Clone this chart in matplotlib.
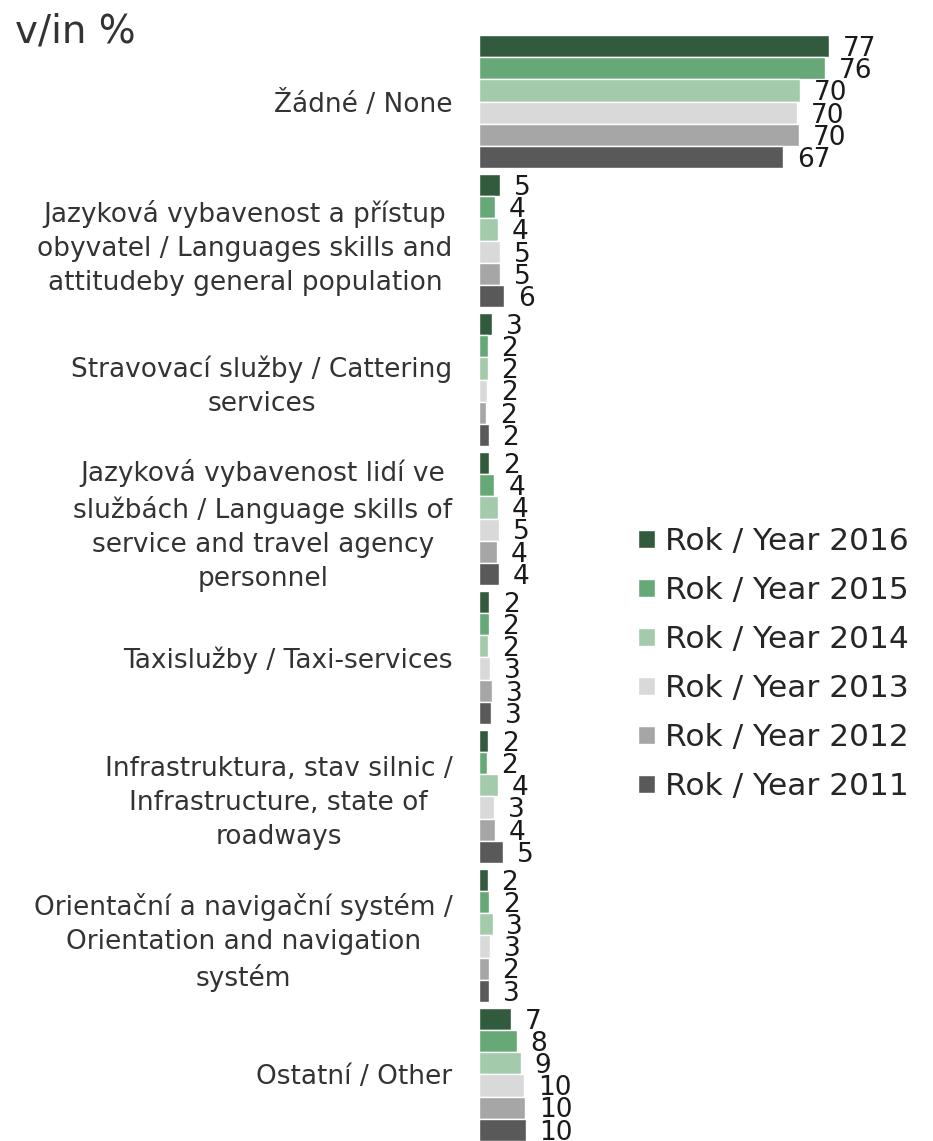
import matplotlib.pyplot as plt
from matplotlib.patches import Patch

categories = [
    "Žádné / None",
    "Jazyková vybavenost a přístup\nobyvatel / Languages skills and\nattitudeby general population",
    "Stravovací služby / Cattering\nservices",
    "Jazyková vybavenost lidí ve\nslužbách / Language skills of\nservice and travel agency\npersonnel",
    "Taxislužby / Taxi-services",
    "Infrastruktura, stav silnic /\nInfrastructure, state of\nroadways",
    "Orientační a navigační systém /\nOrientation and navigation\nsystém",
    "Ostatní / Other",
]
years = ["Rok / Year 2016", "Rok / Year 2015", "Rok / Year 2014",
         "Rok / Year 2013", "Rok / Year 2012", "Rok / Year 2011"]
colors = ["#325a3c", "#67a877", "#a3cbab", "#d9d9d9", "#a6a6a6", "#595959"]

# bar lengths (unrounded) and printed labels
v2016 = [77.2, 4.6, 2.9, 2.3, 2.2, 2.0, 1.9, 7.1]
v2015 = [76.3, 3.5, 1.9, 3.4, 2.1, 1.8, 2.2, 8.3]
v2014 = [70.8, 4.1, 1.9, 4.1, 2.0, 4.2, 3.0, 9.2]
v2013 = [70.1, 4.7, 1.8, 4.5, 2.5, 3.3, 2.5, 10.0]
v2012 = [70.5, 4.7, 1.5, 4.0, 2.9, 3.5, 2.1, 10.1]
v2011 = [67.0, 5.5, 2.1, 4.3, 2.6, 5.2, 2.3, 10.3]
l2016 = [77, 5, 3, 2, 2, 2, 2, 7]
l2015 = [76, 4, 2, 4, 2, 2, 2, 8]
l2014 = [70, 4, 2, 4, 2, 4, 3, 9]
l2013 = [70, 5, 2, 5, 3, 3, 3, 10]
l2012 = [70, 5, 2, 4, 3, 4, 2, 10]
l2011 = [67, 6, 2, 4, 3, 5, 3, 10]

values = [v2016, v2015, v2014, v2013, v2012, v2011]
labels = [l2016, l2015, l2014, l2013, l2012, l2011]

W, H = 933, 1141
fig = plt.figure(figsize=(W / 100, H / 100), dpi=100)
ax = fig.add_axes([479 / W, 0, 390 / W, (H - 35) / H])

step = 0.16
for j, (vals, labs) in enumerate(zip(values, labels)):
    ys = [i + (j - 2.5) * step for i in range(len(categories))]
    ax.barh(ys, vals, height=step, color=colors[j], edgecolor="white",
            linewidth=1.0, label=years[j])
    for y, v, lab in zip(ys, vals, labs):
        ax.annotate(str(lab), (v, y), xytext=(10, -2), textcoords="offset points",
                    va="center", ha="left", fontsize=19, color="#1a1a1a")

ax.set_xlim(0, 86)
ax.set_ylim(len(categories) - 0.52, -0.48)
ax.set_xticks([])
ax.set_yticks(range(len(categories)))
ax.set_yticklabels(categories, fontsize=19, color="#333333",
                   multialignment="center", linespacing=1.4)
ax.tick_params(axis="y", length=0, pad=19)
for s in ax.spines.values():
    s.set_visible(False)

handles = [Patch(facecolor=c, edgecolor="white", linewidth=1.0) for c in colors]
fig.legend(handles, years, loc="center left", bbox_to_anchor=(638 / W, 1 - 664 / H),
           frameon=False, fontsize=22.5, handlelength=0.55, handleheight=0.55,
           handletextpad=0.3, labelspacing=0.64, borderpad=0, borderaxespad=0,
           labelcolor="#262626")

fig.text(15 / W, 1 - 31 / H, "v/in %", fontsize=28, color="#333333", va="center", ha="left")

fig.savefig("out.png", dpi=100)
